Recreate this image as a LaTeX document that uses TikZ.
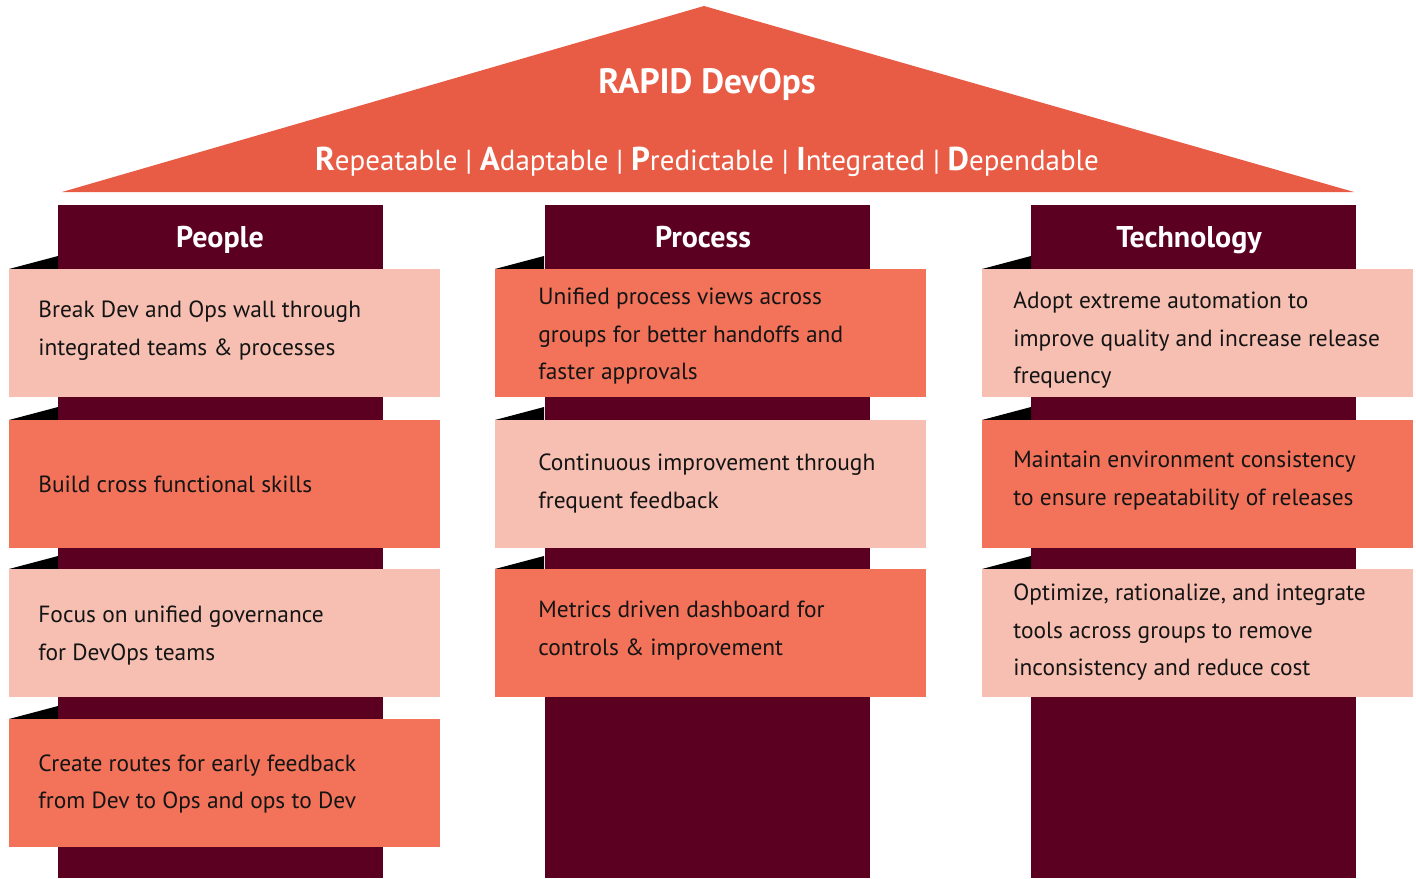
\documentclass[tikz,border=0pt]{standalone}
\usepackage{fontspec}
\setmainfont{PT Sans}
\definecolor{roofc}{HTML}{E85C45}
\definecolor{colc}{HTML}{5C0022}
\definecolor{lightc}{HTML}{F7BFB2}
\definecolor{salmonc}{HTML}{F2735A}
\definecolor{txtc}{HTML}{141414}
\tikzset{
  cardtext/.style={anchor=west, align=left, text=txtc, inner sep=0pt,
    font=\fontsize{11.7}{18.75}\selectfont},
  headtext/.style={anchor=base, text=white, inner sep=0pt, font=\fontsize{15}{18}\selectfont\bfseries},
}
\newcommand{\mycard}[7]{%
  % #1 left x, #2 top y, #3 colour, #4 name, #5 text x, #6 text centre y, #7 text
  \fill[black] (#1,#2) -- (#1+49,#2-13) -- (#1+49,#2) -- cycle;
  \fill[#3] (#1,#2) rectangle (#1+431,#2+128);
  \node[cardtext] (#4) at (#5,#6) {#7};
}
\newcommand{\myinitial}[1]{\textbf{\fontsize{16.5}{18}\selectfont #1}}
\begin{document}
\begin{tikzpicture}[x=0.5pt,y=-0.5pt]
\useasboundingbox (0,0) rectangle (1416,878);
% roof
\fill[roofc] (62,192) -- (704,6) -- (1354,192) -- cycle;
\node[anchor=base, text=white, inner sep=0pt, font=\fontsize{17.6}{20}\selectfont\bfseries] (title) at (707,93) {RAPID DevOps};
\node[text=white, inner sep=0pt, font=\fontsize{14.5}{18}\selectfont] (sub) at (707,162)
  {\myinitial{R}epeatable | \myinitial{A}daptable | \myinitial{P}redictable | \myinitial{I}ntegrated | \myinitial{D}ependable};
% columns
\fill[colc] (58,205) rectangle (383,878);
\fill[colc] (545,205) rectangle (870,878);
\fill[colc] (1031,205) rectangle (1356,878);
\node[headtext] (hpeople) at (220,247) {People};
\node[headtext] (hprocess) at (703,247) {Process};
\node[headtext] (htech) at (1189,247) {Technology};
% People
\mycard{9}{269}{lightc}{p1}{38}{330.5}{Break Dev and Ops wall through\\integrated teams \& processes}
\mycard{9}{420}{salmonc}{p2}{38}{484}{Build cross functional skills}
\mycard{9}{569}{lightc}{p3}{38}{635.5}{Focus on unified governance\\for DevOps teams}
\mycard{9}{719}{salmonc}{p4}{38}{784}{Create routes for early feedback\\from Dev to Ops and ops to Dev}
% Process
\mycard{495}{269}{salmonc}{r1}{538}{336.5}{Unified process views across\\groups for better handoffs and\\faster approvals}
\mycard{495}{420}{lightc}{r2}{538}{483.5}{Continuous improvement through\\frequent feedback}
\mycard{495}{569}{salmonc}{r3}{538}{630.5}{Metrics driven dashboard for\\controls \& improvement}
% Technology
\mycard{982}{269}{lightc}{t1}{1013}{340.5}{Adopt extreme automation to\\improve quality and increase release\\frequency}
\mycard{982}{420}{salmonc}{t2}{1013}{480.5}{Maintain environment consistency\\to ensure repeatability of releases}
\mycard{982}{569}{lightc}{t3}{1013}{632.5}{Optimize, rationalize, and integrate\\tools across groups to remove\\inconsistency and reduce cost}
\end{tikzpicture}
\end{document}
